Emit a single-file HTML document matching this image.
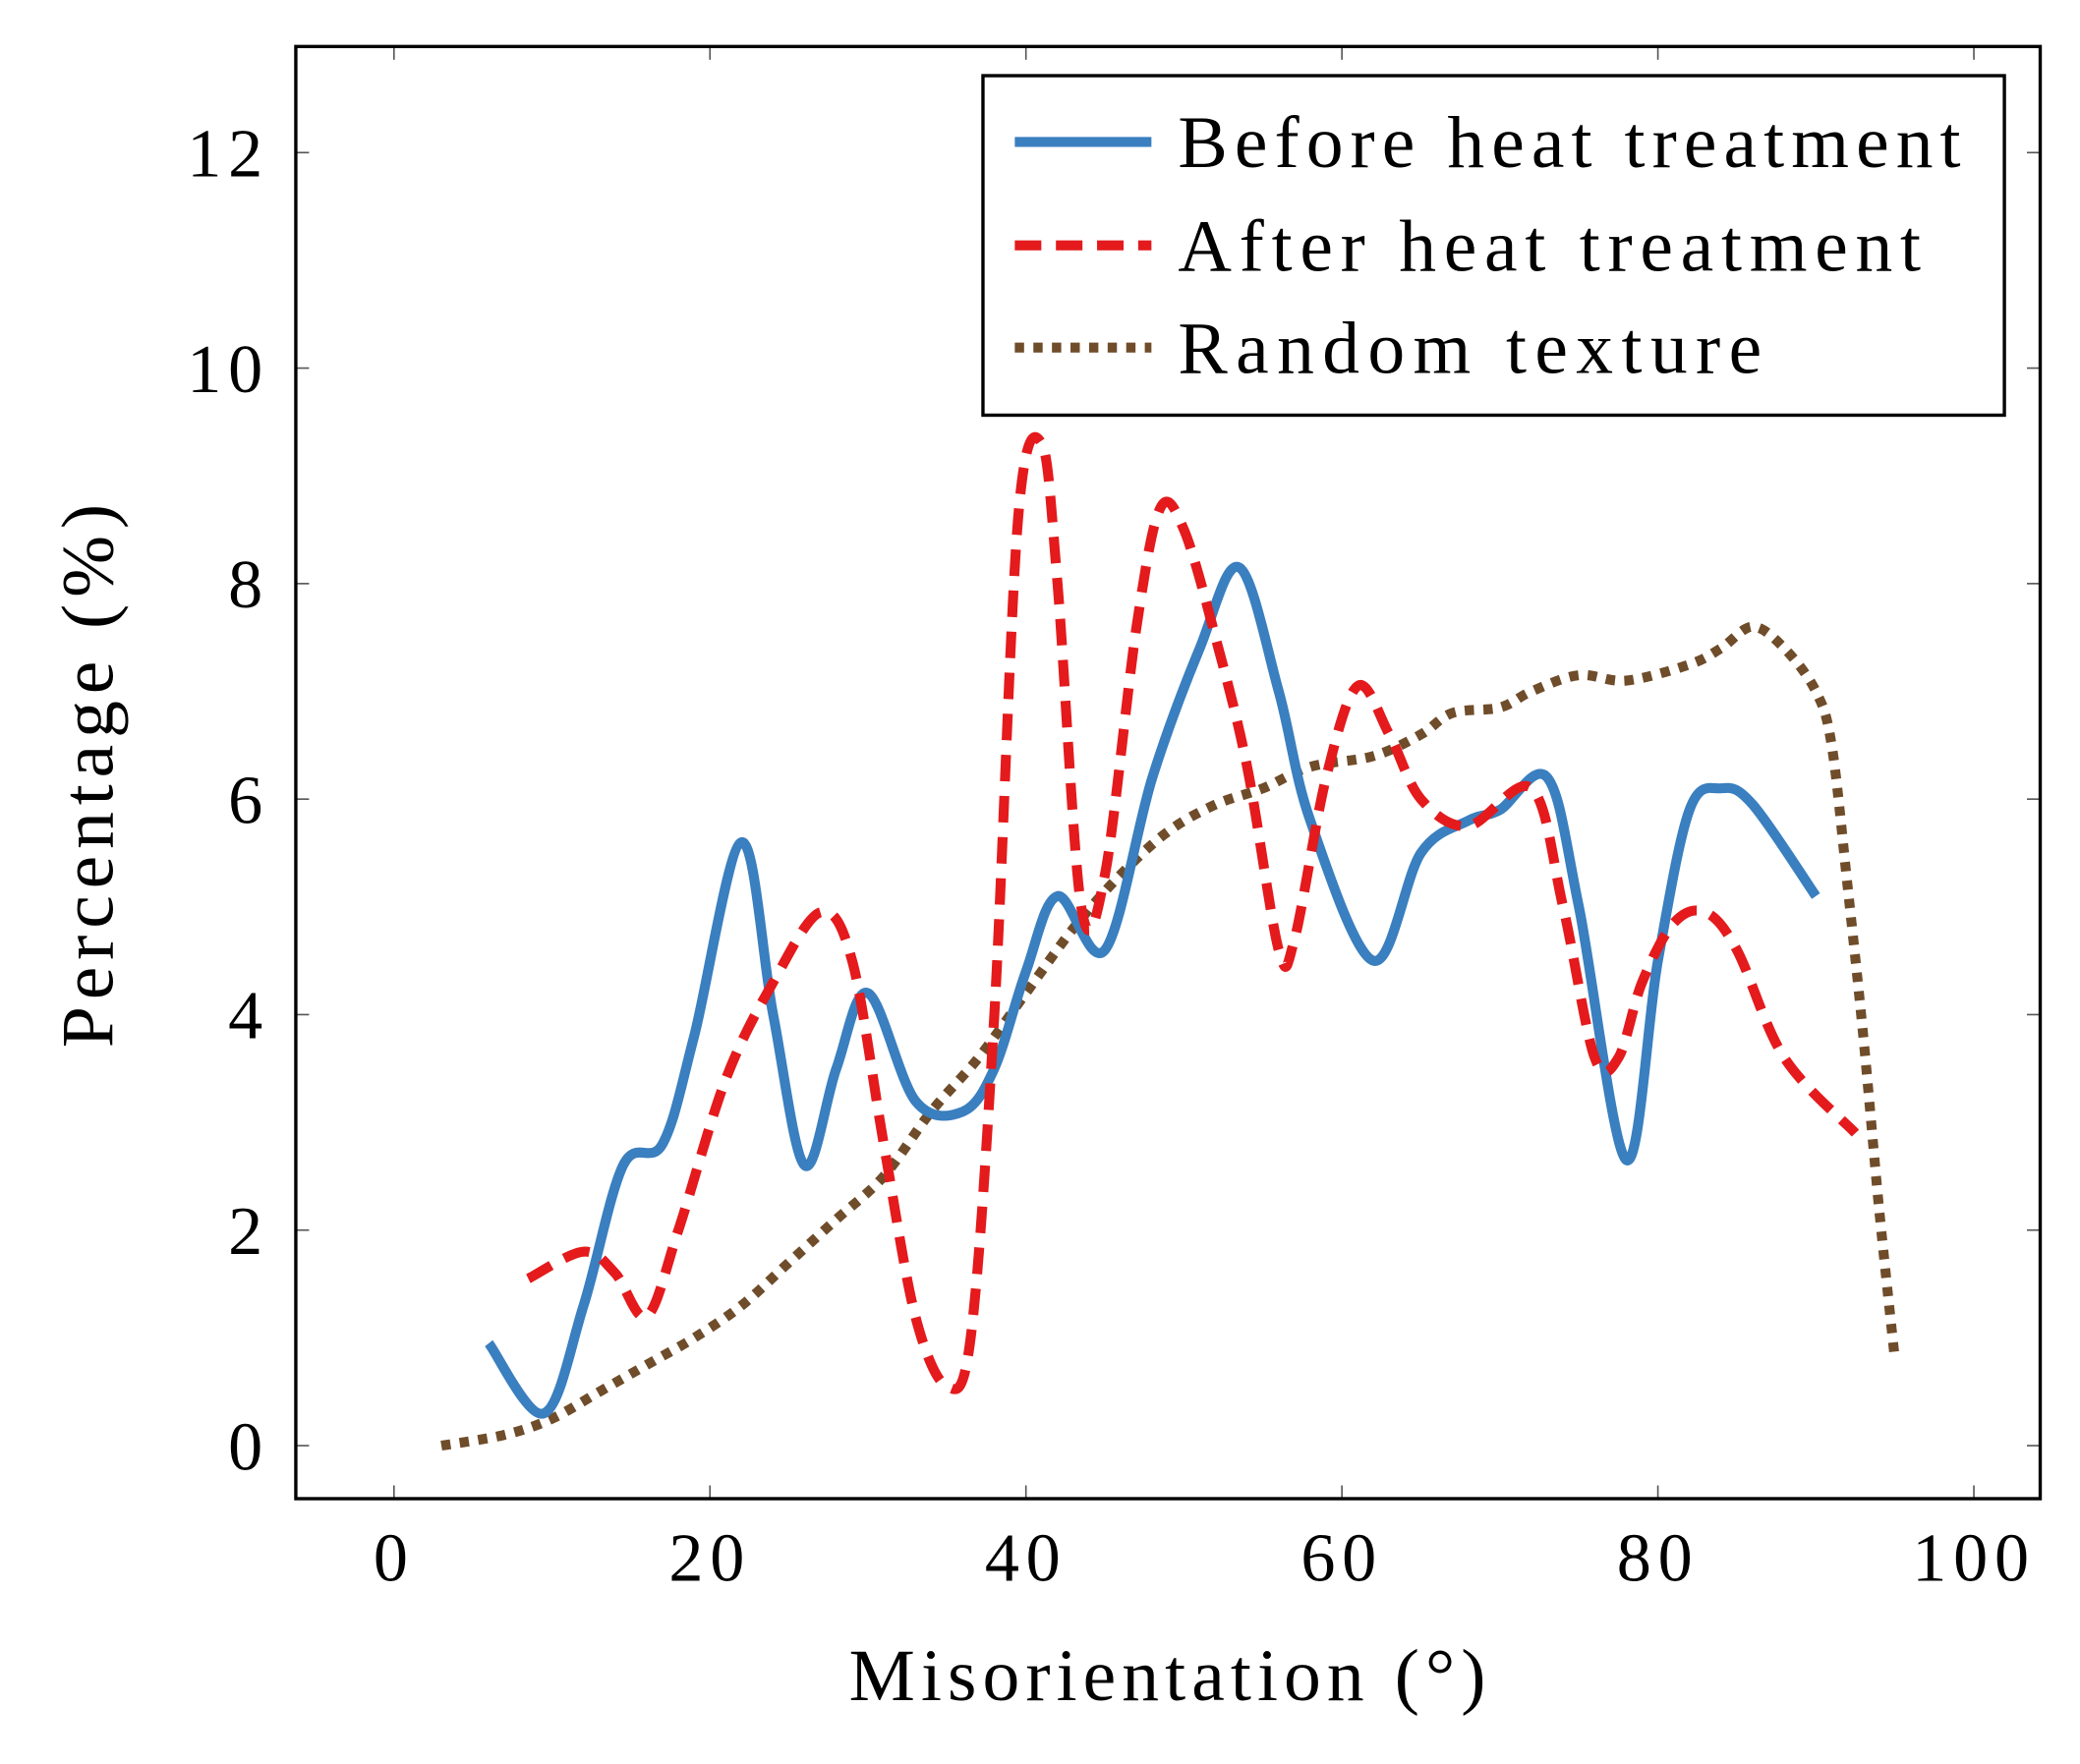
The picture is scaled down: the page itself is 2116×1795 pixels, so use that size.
<!DOCTYPE html>
<html><head><meta charset="utf-8"><style>
html,body{margin:0;padding:0;background:#fff;}
svg{display:block;}
text{font-family:"Liberation Serif","DejaVu Serif",serif;fill:#000;}
</style></head><body>
<svg id="chart" width="2116" height="1795" viewBox="0 0 1568 1330" xmlns="http://www.w3.org/2000/svg">
<g id="axes"></g>
<g id="series"></g>
<rect x="223" y="35" width="1315" height="1095" fill="none" stroke="#000" stroke-width="2.5"/>
<text x="640" y="1282" font-size="56" textLength="480" lengthAdjust="spacing">Misorientation (°)</text>
<text transform="translate(85,790) rotate(-90)" font-size="56" textLength="410" lengthAdjust="spacing">Percentage (%)</text>
<g>
<rect x="741" y="57" width="770" height="256" fill="#fff" stroke="#000" stroke-width="2.5"/>
<line x1="765" y1="107" x2="868" y2="107" stroke="#3a7fbf" stroke-width="7.5"/>
<text x="888" y="126" font-size="56" textLength="590" lengthAdjust="spacing">Before heat treatment</text>
<line x1="765" y1="185" x2="868" y2="185" stroke="#e41a1c" stroke-width="7.5" stroke-dasharray="20,11"/>
<text x="888" y="204" font-size="56" textLength="560" lengthAdjust="spacing">After heat treatment</text>
<line x1="765" y1="262" x2="868" y2="262" stroke="#6f4c2a" stroke-width="7.5" stroke-dasharray="7,7"/>
<text x="888" y="281" font-size="56" textLength="440" lengthAdjust="spacing">Random texture</text>
</g>
</svg>
<script>
const xTicks = [0,20,40,60,80,100];
const yTicks = [0,2,4,6,8,10,12];
const beforeX = [6,9.5,12,14.5,17,19,22,24,26,28,30,33,36,38,40,42,45,48,51,53.5,56,58,62,65,68,70,73,75,78,80,82,84,86,90];
const beforeY = [0.95,0.3,1.3,2.6,2.8,3.8,5.6,4,2.6,3.5,4.2,3.2,3.1,3.5,4.4,5.1,4.6,6.2,7.4,8.15,7,5.8,4.5,5.5,5.8,5.9,6.2,5,2.65,4.5,5.9,6.1,5.95,5.1];
const afterX = [8.5,12,14,16,18,21,24,27,29,31,33,35,36.5,38,39.5,41,42,43.5,45,47,48.5,50,52,54,56,57,59,61,63,65,68,72,74,76,77.5,79,81,83,85,88,92.5];
const afterY = [1.55,1.8,1.6,1.2,2,3.4,4.3,4.95,4.5,2.8,1.2,0.55,1,4,8.6,9.3,8,5,5.3,7.6,8.7,8.5,7.5,6.3,4.6,4.7,6.2,7.05,6.6,6.0,5.75,6.1,5,3.6,3.6,4.3,4.85,4.95,4.6,3.6,2.9];
const randomX = [3,7,10,13,16,19,22,25,28,31,34,37,40,43,46,49,52,55,58,62,65,67,70,72,75,78,82,84,86,88,90,91,92,93,94,95];
const randomY = [0,0.1,0.25,0.5,0.75,1.0,1.3,1.7,2.1,2.5,3.1,3.6,4.2,4.8,5.3,5.7,5.95,6.1,6.3,6.4,6.6,6.8,6.85,7.0,7.15,7.1,7.25,7.4,7.6,7.4,7,6.5,5.2,3.8,2.2,0.8];

const NS='http://www.w3.org/2000/svg';
const X = v => 297 + v*(1488-297)/100;
const Y = v => 1090 - v*(1090-115)/12;
const axes=document.getElementById('axes'), series=document.getElementById('series');
function mk(tag, attrs, parent){const e=document.createElementNS(NS,tag);for(const k in attrs)e.setAttribute(k,attrs[k]);parent.appendChild(e);return e;}
xTicks.forEach(t=>{
  const a=mk('line',{x1:X(t),x2:X(t),y1:1130,y2:1120,stroke:'#555','stroke-width':1.2},axes);
  
  
  const b=mk('line',{x1:X(t),x2:X(t),y1:35,y2:45,stroke:'#555','stroke-width':1.2},axes);
  
  
  const l=mk('text',{x:X(t),y:1192,'font-size':52,'letter-spacing':5,'text-anchor':'middle'},axes);
  l.textContent=t;
  
  
});
yTicks.forEach(t=>{
  const a=mk('line',{x1:223,x2:233,y1:Y(t),y2:Y(t),stroke:'#555','stroke-width':1.2},axes);
  
  
  const b=mk('line',{x1:1528,x2:1538,y1:Y(t),y2:Y(t),stroke:'#555','stroke-width':1.2},axes);
  
  
  const l=mk('text',{x:203,y:Y(t)+18,'font-size':52,'letter-spacing':5,'text-anchor':'end'},axes);
  l.textContent=t;
  
  
});
function smooth(xs,ys){
  const p=xs.map((x,i)=>[X(x),Y(ys[i])]);
  let d='M'+p[0][0]+','+p[0][1];
  for(let i=0;i<p.length-1;i++){
    const p0=p[Math.max(0,i-1)],p1=p[i],p2=p[i+1],p3=p[Math.min(p.length-1,i+2)];
    const c1=[p1[0]+(p2[0]-p0[0])/6,p1[1]+(p2[1]-p0[1])/6];
    const c2=[p2[0]-(p3[0]-p1[0])/6,p2[1]-(p3[1]-p1[1])/6];
    d+=' C'+c1+' '+c2+' '+p2;
  }
  return d;
}
const r=mk('path',{d:smooth(randomX,randomY),fill:'none',stroke:'#6f4c2a','stroke-width':7.5,'stroke-dasharray':'7,7'},series);


const b=mk('path',{d:smooth(beforeX,beforeY),fill:'none',stroke:'#3a7fbf','stroke-width':7.5},series);


const a=mk('path',{d:smooth(afterX,afterY),fill:'none',stroke:'#e41a1c','stroke-width':7.5,'stroke-dasharray':'20,11'},series);


</script>
</body></html>
